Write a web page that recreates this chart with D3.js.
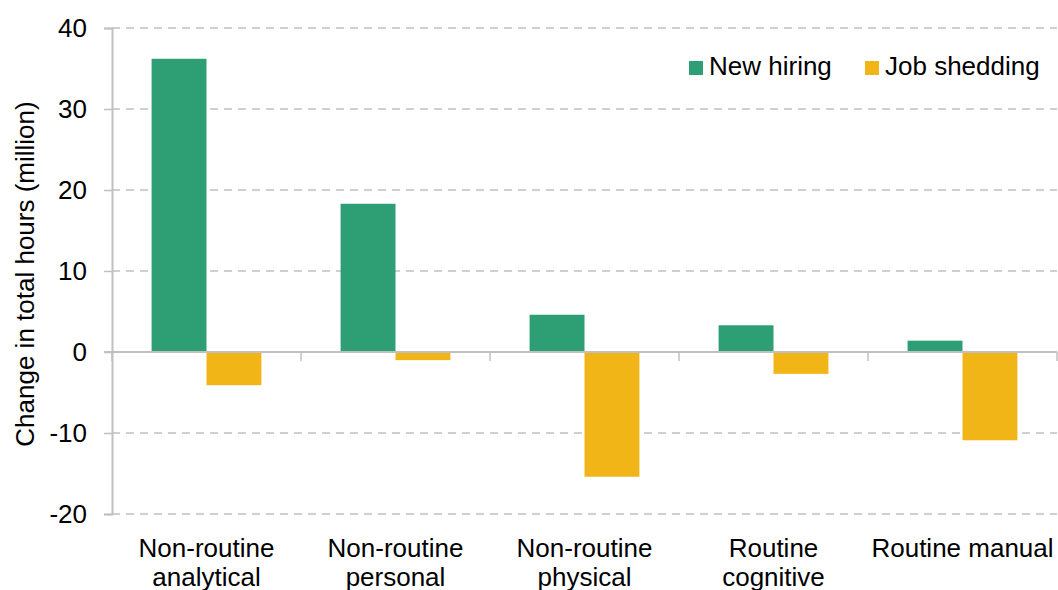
<!DOCTYPE html>
<html><head><meta charset="utf-8">
<script src="https://cdn.jsdelivr.net/npm/d3@7"></script>
<style>body{margin:0;background:#fff}svg{display:block}text{font-family:"Liberation Sans",Arial,sans-serif;fill:#000}</style>
</head><body><svg id="c" width="1058" height="590"></svg>
<script>
const categories = [["Non-routine","analytical"],["Non-routine","personal"],["Non-routine","physical"],["Routine","cognitive"],["Routine manual"]];
const seriesNames = ["New hiring","Job shedding"];
const newHiring = [36.2, 18.3, 4.6, 3.3, 1.4];
const jobShedding = [-4.1, -1.0, -15.4, -2.7, -10.9];
const yTicks = [-20,-10,0,10,20,30,40];
const colors = ["#2E9E74","#F2B517"];

const FS = "26px";
const svg = d3.select("#c");
const L=112, R=1057, T=28, B=514;
const y = d3.scaleLinear().domain([-20,40]).range([B,T]);
const x0 = d3.scaleBand().domain(d3.range(categories.length)).range([L,R]).paddingInner(0.419).paddingOuter(0.2095);
const x1 = d3.scaleBand().domain([0,1]).range([0,x0.bandwidth()]);

// gridlines
svg.append("g").selectAll("line").data(yTicks.filter(t=>t!==0)).join("line")
  .attr("x1",L).attr("x2",R).attr("y1",d=>y(d)).attr("y2",d=>y(d))
  .attr("stroke","#C0C0C0").attr("stroke-width",1.5).attr("stroke-dasharray","8,6");

// y axis
const ya = svg.append("g").attr("transform",`translate(${L},0)`)
  .call(d3.axisLeft(y).tickValues(yTicks).tickSize(8).tickPadding(17).tickFormat(d=>String(d)));
ya.select(".domain").attr("stroke","#C0C0C0").attr("stroke-width",2);
ya.selectAll(".tick line").attr("stroke","#C0C0C0").attr("stroke-width",1.5);
ya.selectAll(".tick text").style("font-size",FS).style("font-family","Liberation Sans, Arial, sans-serif").attr("fill","#000");

// bars
const data = categories.map((c,i)=>[newHiring[i], jobShedding[i]]);
const g = svg.append("g");
data.forEach((vals,i)=>{
  vals.forEach((v,j)=>{
    g.append("rect").attr("x",x0(i)+x1(j)).attr("width",x1.bandwidth())
      .attr("y",y(Math.max(0,v))).attr("height",Math.abs(y(v)-y(0)))
      .attr("fill",colors[j]);
  });
});

// zero axis with category boundary ticks
const step = x0.step();
const bounds = d3.range(categories.length+1).map(i=>L+i*step);
svg.append("line").attr("x1",L-8).attr("x2",R).attr("y1",y(0)).attr("y2",y(0))
  .attr("stroke","#C0C0C0").attr("stroke-width",2);
svg.append("g").selectAll("line").data(bounds).join("line")
  .attr("x1",d=>Math.min(d,R)).attr("x2",d=>Math.min(d,R)).attr("y1",y(0)).attr("y2",y(0)+9)
  .attr("stroke","#C0C0C0").attr("stroke-width",1.5);

// category labels
categories.forEach((lines,i)=>{
  const cx = x0(i)+x0.bandwidth()/2;
  const t = svg.append("text").attr("text-anchor","middle").style("font-size",FS);
  lines.forEach((ln,k)=>t.append("tspan").attr("x",cx).attr("y",557+k*29).text(ln));
});

// y title
svg.append("text").attr("transform","translate(34,274) rotate(-90)").attr("text-anchor","middle")
  .style("font-size",FS).text("Change in total hours (million)");

// legend
const leg = [{x:689,tx:709},{x:865,tx:885}];
seriesNames.forEach((n,j)=>{
  svg.append("rect").attr("x",leg[j].x).attr("y",61).attr("width",14).attr("height",14).attr("fill",colors[j]);
  svg.append("text").attr("x",leg[j].tx).attr("y",75).style("font-size",FS).text(n);
});
</script></body></html>
